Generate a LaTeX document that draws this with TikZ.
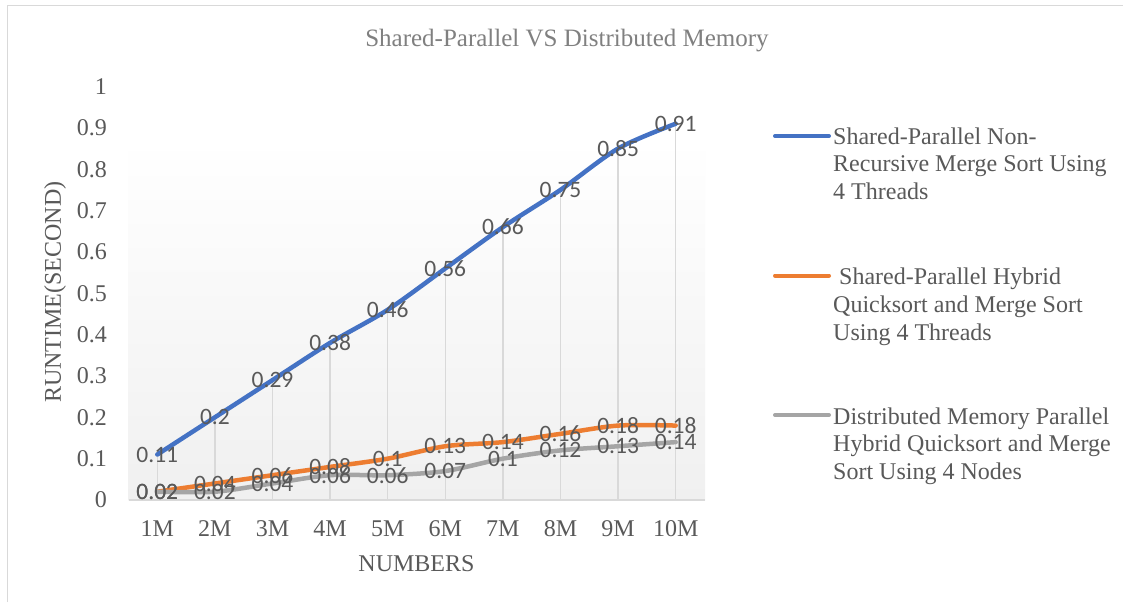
\documentclass[tikz,border=0pt]{standalone}
\usepackage{fontspec}
\setmainfont{Liberation Serif}
\newfontfamily\lblfont{Carlito}
\definecolor{sblue}{HTML}{4472C4}
\definecolor{sorange}{HTML}{ED7D31}
\definecolor{sgray}{HTML}{A5A5A5}
\definecolor{txtc}{HTML}{595959}
\definecolor{gridc}{HTML}{D9D9D9}
\definecolor{ttlc}{HTML}{808080}
\definecolor{framec}{HTML}{D9D9D9}
\definecolor{bgc}{HTML}{F0F0F0}
\begin{document}
\begin{tikzpicture}[x=1pt,y=-1pt,
  axlabel/.style={inner sep=0pt, text=txtc, font=\fontsize{24}{28}\selectfont},
  dlabel/.style={inner sep=0pt, text=txtc, font=\lblfont\fontsize{23.5}{26}\selectfont},
  series/.style={line width=4.5pt, line cap=round, line join=round},
  dropline/.style={draw=gridc, line width=1.3pt},
  legtext/.style={inner sep=0pt, text=txtc, align=left, anchor=base west, font=\fontsize{24}{27.8}\selectfont},
]
\useasboundingbox (0,0) rectangle (1123,602);
\fill[white] (0,0) rectangle (1123,602);
% frame
\draw[framec, line width=1.2pt] (7.5,602) -- (7.5,5.5) -- (1123,5.5);
% plot area background
\shade[top color=white, bottom color=bgc] (128.5,139) rectangle (705,500);
% title
\node[inner sep=0pt, text=ttlc, font=\fontsize{25}{28}\selectfont] (title) at (567,41) {Shared-Parallel VS Distributed Memory};
% base
\coordinate (base) at (0,500);
\draw[gridc, line width=1.3pt] (128.5,500) -- (705,500);
% y tick labels
\foreach \t/\s in {0/0,0.1/0.1,0.2/0.2,0.3/0.3,0.4/0.4,0.5/0.5,0.6/0.6,0.7/0.7,0.8/0.8,0.9/0.9,1/1}{
  \node[axlabel, anchor=east] (y\s) at (107,{500-413.5*\t}) {\s};
}
% x tick labels
\foreach \i in {1,...,10}{
  \node[axlabel] (x\i) at ({157.3+57.6*(\i-1)},529) {\i M};
}
\node[axlabel] (xtitle) at (416.5,564) {NUMBERS};
\node[axlabel, rotate=90] (ytitle) at (55,292) {RUNTIME(SECOND)};
% data coordinates
\foreach \v [count=\i] in {0.11,0.2,0.29,0.38,0.46,0.56,0.66,0.75,0.85,0.91}{
  \coordinate (b\i) at ({157.3+57.6*(\i-1)},{500-413.5*\v});
}
\foreach \v [count=\i] in {0.02,0.04,0.06,0.08,0.1,0.13,0.14,0.16,0.18,0.18}{
  \coordinate (o\i) at ({157.3+57.6*(\i-1)},{500-413.5*\v});
}
\foreach \v [count=\i] in {0.02,0.02,0.04,0.06,0.06,0.07,0.1,0.12,0.13,0.14}{
  \coordinate (g\i) at ({157.3+57.6*(\i-1)},{500-413.5*\v});
}
% drop lines
\foreach \i in {1,...,10}{
  \draw[dropline] (b\i) -- (b\i |- base);
}
% series
\draw[series, sblue] plot[smooth, tension=0.5] coordinates {(b1) (b2) (b3) (b4) (b5) (b6) (b7) (b8) (b9) (b10)};
\draw[series, sorange] plot[smooth, tension=0.5] coordinates {(o1) (o2) (o3) (o4) (o5) (o6) (o7) (o8) (o9) (o10)};
\draw[series, sgray] plot[smooth, tension=0.5] coordinates {(g1) (g2) (g3) (g4) (g5) (g6) (g7) (g8) (g9) (g10)};
% data labels
\foreach \v [count=\i] in {0.11,0.2,0.29,0.38,0.46,0.56,0.66,0.75,0.85,0.91}{
  \node[dlabel] (lb\i) at (b\i) {\v};
}
\foreach \v [count=\i] in {0.02,0.04,0.06,0.08,0.1,0.13,0.14,0.16,0.18,0.18}{
  \node[dlabel] (lo\i) at (o\i) {\v};
}
\foreach \v [count=\i] in {0.02,0.02,0.04,0.06,0.06,0.07,0.1,0.12,0.13,0.14}{
  \node[dlabel] (lg\i) at (g\i) {\v};
}
% legend
\coordinate (k1a) at (775,136); \coordinate (k1b) at (829,136);
\coordinate (k2a) at (775,275.5); \coordinate (k2b) at (829,275.5);
\coordinate (k3a) at (775,415); \coordinate (k3b) at (829,415);
\draw[series, line width=4pt, sblue] (k1a) -- (k1b);
\draw[series, line width=4pt, sorange] (k2a) -- (k2b);
\draw[series, line width=4pt, sgray] (k3a) -- (k3b);
\node[legtext] (leg1) at (833,199.6) {Shared-Parallel Non-\\Recursive Merge Sort Using\\4 Threads};
\node[legtext] (leg2) at (833,340) {\hspace{6pt}Shared-Parallel Hybrid\\Quicksort and Merge Sort\\Using 4 Threads};
\node[legtext] (leg3) at (833,479.6) {Distributed Memory Parallel\\Hybrid Quicksort and Merge\\Sort Using 4 Nodes};
\end{tikzpicture}
\end{document}
